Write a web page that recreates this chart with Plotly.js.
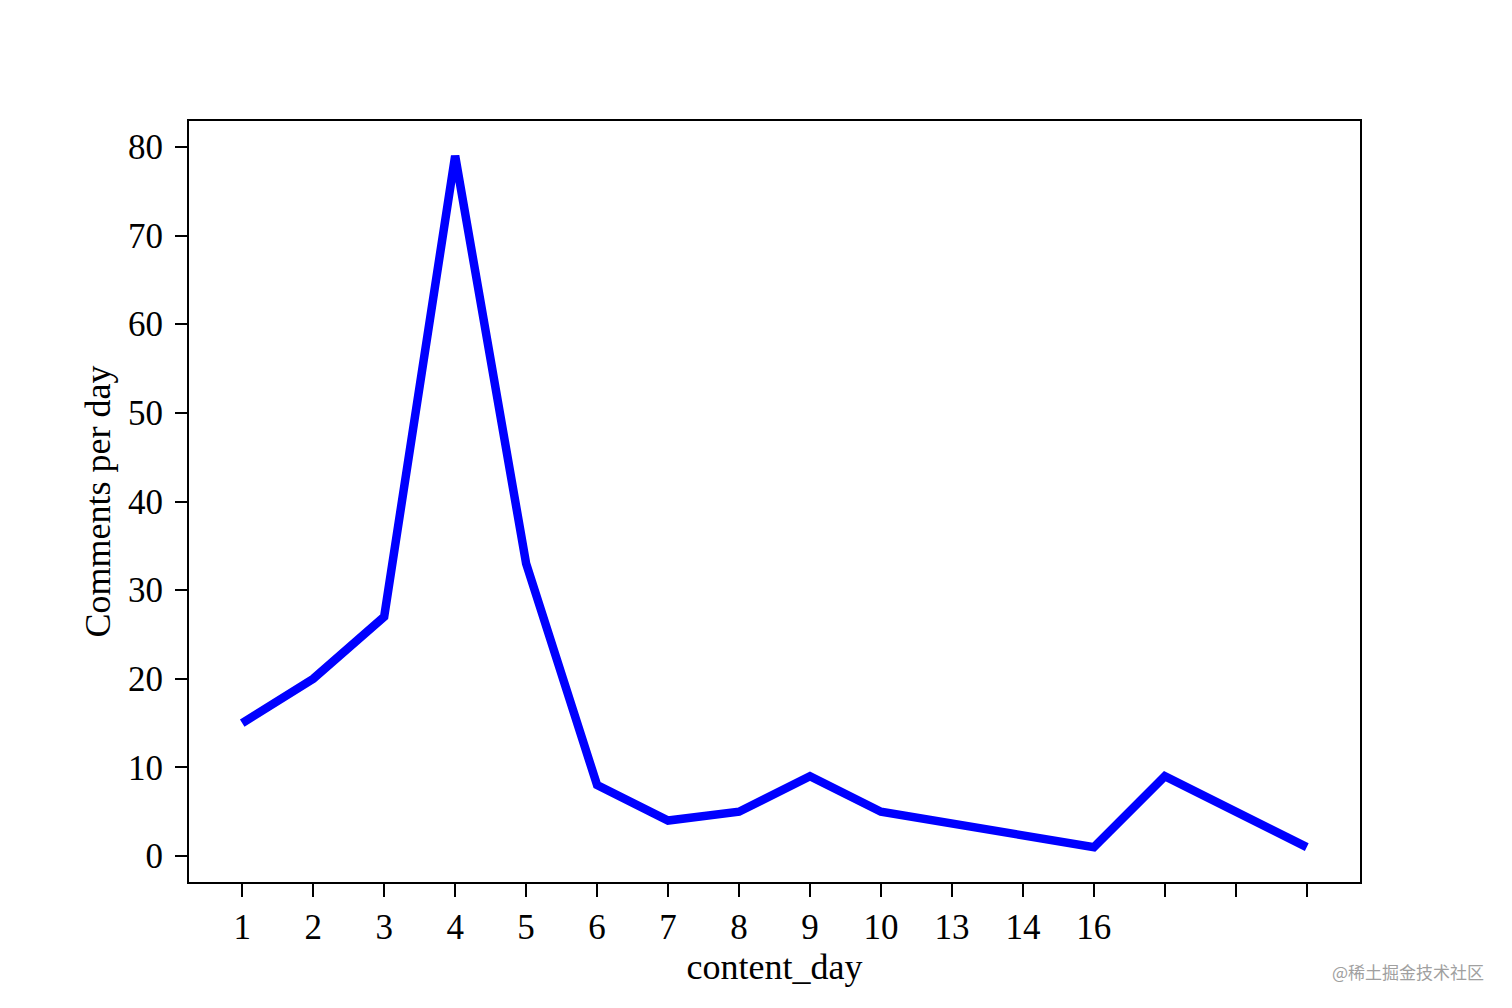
<!DOCTYPE html>
<html>
<head>
<meta charset="utf-8">
<script src="https://cdn.plot.ly/plotly-3.0.1.min.js"></script>
<style>html,body{margin:0;padding:0;background:#fff;}#chart{width:1512px;height:1008px;}</style>
</head>
<body>
<div id="chart"></div>
<script>
// Data
const dayPositions = [1, 2, 3, 4, 5, 6, 7, 8, 9, 10, 13, 14, 16];
const comments = [15, 20, 27, 79, 33, 8, 4, 5, 9, 5, 1, 9, 1];
const tickPositions = [1, 2, 3, 4, 5, 6, 7, 8, 9, 10, 11, 12, 13, 14, 15, 16];
const tickLabels = ["1", "2", "3", "4", "5", "6", "7", "8", "9", "10", "13", "14", "16", "", "", ""];
const yTicks = [0, 10, 20, 30, 40, 50, 60, 70, 80];

const serif = "'Liberation Serif', 'DejaVu Serif', serif";

const trace = {
  x: dayPositions,
  y: comments,
  type: 'scatter',
  mode: 'lines',
  line: {color: '#0000ff', width: 8.5},
  hoverinfo: 'skip'
};

const layout = {
  width: 1512,
  height: 1008,
  paper_bgcolor: '#ffffff',
  plot_bgcolor: '#ffffff',
  showlegend: false,
  margin: {l: 189, r: 152, t: 121, b: 126},
  font: {family: serif, color: '#000000'},
  xaxis: {
    range: [0.25, 16.75],
    tickmode: 'array',
    tickvals: tickPositions,
    ticktext: tickLabels,
    ticks: 'outside',
    ticklen: 13,
    tickwidth: 2,
    tickcolor: '#000',
    ticklabelstandoff: 0,
    showline: true,
    linewidth: 2,
    linecolor: '#000',
    mirror: true,
    showgrid: false,
    zeroline: false,
    tickfont: {family: serif, size: 35, color: '#000'},
    title: {text: 'content_day', font: {family: serif, size: 36, color: '#000'}, standoff: 6}
  },
  yaxis: {
    range: [-2.93, 82.93],
    tickmode: 'array',
    tickvals: yTicks,
    ticks: 'outside',
    ticklen: 12,
    tickwidth: 2,
    tickcolor: '#000',
    ticklabelstandoff: 5,
    showline: true,
    linewidth: 2,
    linecolor: '#000',
    mirror: true,
    showgrid: false,
    zeroline: false,
    tickfont: {family: serif, size: 35, color: '#000'},
    title: {text: 'Comments per day', font: {family: serif, size: 36, color: '#000'}, standoff: 6}
  },
  annotations: [{
    text: '@稀土掘金技术社区',
    xref: 'paper', yref: 'paper',
    x: (1486 - 189) / 1171, y: (882 - 971) / 761,
    xanchor: 'right', yanchor: 'middle',
    showarrow: false,
    font: {family: "'Noto Sans CJK SC', sans-serif", size: 17, color: '#a0a0a0'}
  }]
};

Plotly.newPlot('chart', [trace], layout, {displayModeBar: false, staticPlot: true});
</script>
</body>
</html>
